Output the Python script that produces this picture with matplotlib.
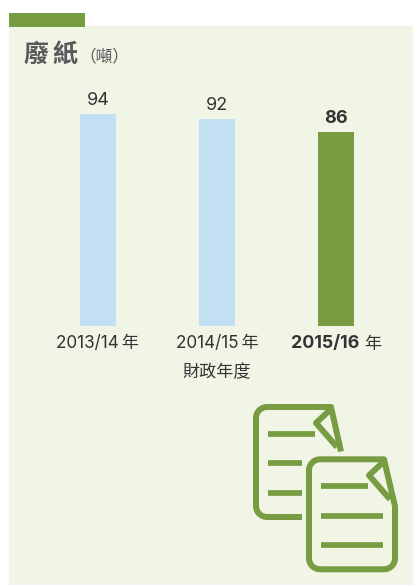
import matplotlib
matplotlib.use('Agg')
import matplotlib.pyplot as plt
from matplotlib.patches import Rectangle, PathPatch
from matplotlib.path import Path
from matplotlib.transforms import ScaledTranslation

categories = ['2013/14\u2009年', '2014/15\u2009年\n財政年度', '2015/16']
values = [94, 92, 86]
bar_colors = ['#c3dff2', '#c3dff2', '#789c42']
title_chars = ['廢', '紙']
unit = '（噸）'
third_suffix = '年'

W, H = 414, 585
BG = '#f1f5e6'
GREEN = '#789c42'
FONT = ['Inter', 'Noto Sans CJK TC']
CJK = ['Noto Sans CJK TC', 'Inter']

fig = plt.figure(figsize=(W / 100, H / 100), dpi=100, facecolor='white')

# page layer in pixel coordinates
bg = fig.add_axes([0, 0, 1, 1])
bg.set_xlim(0, W)
bg.set_ylim(H, 0)
bg.axis('off')
bg.add_patch(Rectangle((9, 26), W - 9, H - 26, fc=BG, ec='none'))
bg.add_patch(Rectangle((9, 13), 76, 13.5, fc=GREEN, ec='none'))
for cx, ch in zip((36.5, 65), title_chars):
    bg.text(cx, 55, ch, family=CJK, weight='bold', fontsize=18, color='#58595b', va='center', ha='center')
bg.text(79, 57, unit, family=CJK, fontsize=12, color='#58595b', va='center', ha='left')


def draw_icon(dx, dy, full):
    r = 11
    k = 0.45 * r
    x0, y0, x1, y1 = 256 + dx, 407 + dy, 331 + dx, 517 + dy
    if full:
        xr = 342 + dx
        verts = [(x0 + r, y1), (x0 + k, y1), (x0, y1 - k), (x0, y1 - r),
                 (x0, y0 + r), (x0, y0 + k), (x0 + k, y0), (x0 + r, y0),
                 (x1, y0), (xr, 454 + dy),
                 (xr, y1 - r), (xr, y1 - k), (xr - k, y1), (xr - r, y1),
                 (x0 + r, y1)]
        codes = [Path.MOVETO, Path.CURVE4, Path.CURVE4, Path.CURVE4,
                 Path.LINETO, Path.CURVE4, Path.CURVE4, Path.CURVE4,
                 Path.LINETO, Path.LINETO,
                 Path.LINETO, Path.CURVE4, Path.CURVE4, Path.CURVE4,
                 Path.LINETO]
    else:
        verts = [(302, y1), (x0 + r, y1), (x0 + k, y1), (x0, y1 - k), (x0, y1 - r),
                 (x0, y0 + r), (x0, y0 + k), (x0 + k, y0), (x0 + r, y0),
                 (x1, y0), (341, 451.5)]
        codes = [Path.MOVETO, Path.LINETO, Path.CURVE4, Path.CURVE4, Path.CURVE4,
                 Path.LINETO, Path.CURVE4, Path.CURVE4, Path.CURVE4,
                 Path.LINETO, Path.LINETO]
    lw = 6 * 72 / 100
    bg.add_patch(PathPatch(Path(verts, codes), fc='none', ec=GREEN, lw=lw, joinstyle='round', capstyle='butt'))
    fold = [(x1 - 1, y0 + 3), (316 + dx, 423 + dy), (337 + dx, 447 + dy)]
    bg.plot(*zip(*fold), color=GREEN, lw=lw, solid_joinstyle='round', solid_capstyle='butt')
    bg.plot([268 + dx, 315 + dx], [434 + dy, 434 + dy], color=GREEN, lw=lw * 0.95, solid_capstyle='butt')
    xe = 302 if not full else 330 + dx
    for y in (463.3, 492.7):
        bg.plot([268 + dx, xe], [y + dy, y + dy], color=GREEN, lw=lw * 0.95, solid_capstyle='butt')


draw_icon(0, 0, False)
draw_icon(53, 52.3, True)

# chart layer
ax = fig.add_axes([38.5 / W, (H - 326) / H, 357 / W, 225.5 / H])
ax.patch.set_alpha(0)
x = list(range(len(values)))
bars = ax.bar(x, values, width=36 / 119, color=bar_colors, linewidth=0)
ax.set_xlim(-0.5, 2.5)
ax.set_ylim(0, 100)
ax.set_yticks([])
for s in ax.spines.values():
    s.set_visible(False)
ax.set_xticks(x)
ax.set_xticklabels(categories, family=FONT, fontsize=12.3, color='#333333', linespacing=1.9)
ax.tick_params(axis='x', length=0, pad=6.5)

# third label: bold period, regular suffix, shifted to share one centre
lab = ax.get_xticklabels()[2]
lab.set_fontweight('bold')
lab.set_fontsize(12.8)
lab.set_transform(lab.get_transform() + ScaledTranslation(-10.5 / 100, 0, fig.dpi_scale_trans))
ax.annotate(third_suffix, xy=(2, 0), xycoords=('data', 'axes fraction'), xytext=(28 * 0.72, -6.5),
            textcoords='offset points', ha='left', va='top', family=CJK, fontsize=12.3, color='#333333')

for i, (b, v) in enumerate(zip(bars, values)):
    ax.annotate(str(v), xy=(b.get_x() + b.get_width() / 2, v), xytext=(0, 3.5), textcoords='offset points',
                ha='center', va='bottom', family=FONT, fontsize=13,
                weight='bold' if i == 2 else 'normal', color='#333333')

fig.savefig('out.png', dpi=100, facecolor='white')
